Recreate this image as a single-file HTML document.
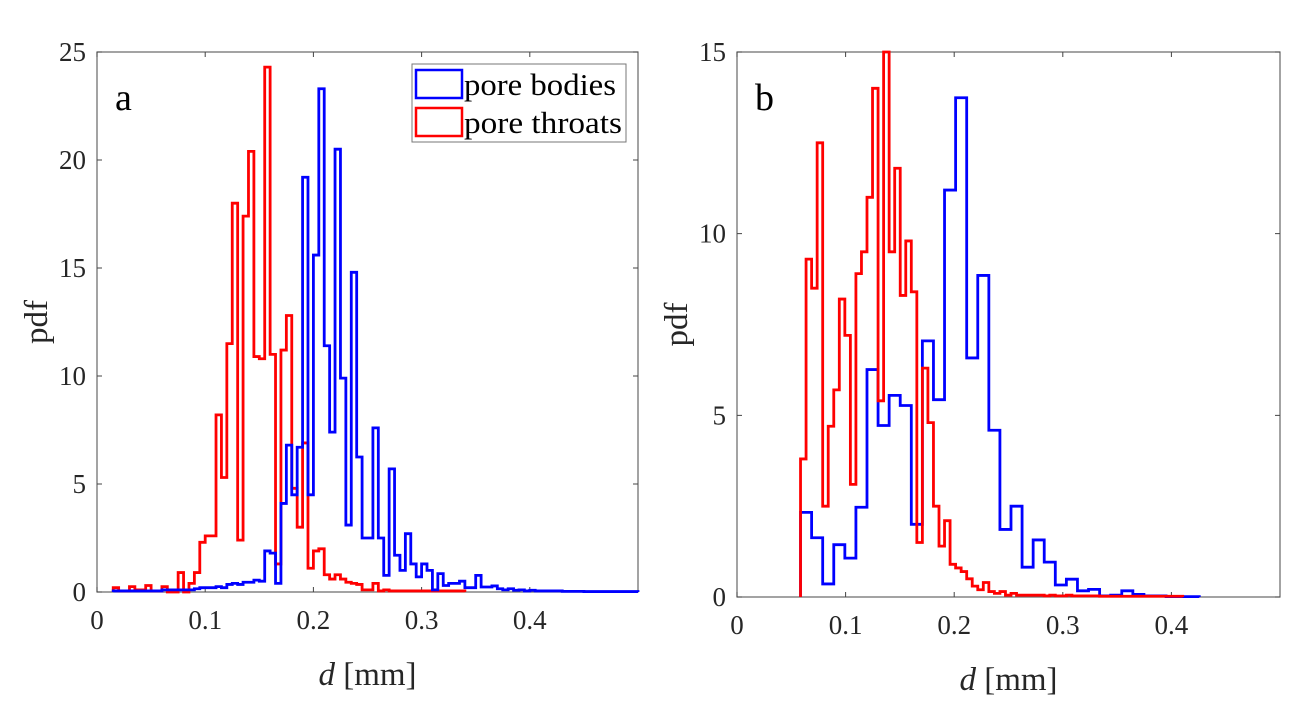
<!DOCTYPE html>
<html><head><meta charset="utf-8">
<style>
html,body{margin:0;padding:0;background:#fff;}
svg{display:block;font-family:"Liberation Serif",serif;}
</style></head>
<body>
<svg id="fig" width="1290" height="709" viewBox="0 0 1290 709" xmlns="http://www.w3.org/2000/svg"></svg>
<script>
// ---- Panel a data ----
const aRedStart = 0.015, aRedWidth = 0.005;
const aRedValues = [0.2,0.05,0.05,0.25,0.1,0.1,0.3,0.05,0.05,0.25,0,0,
  0.9,0,0.4,0.9,2.3,2.6,2.6,8.2,5.3,11.5,18.0,2.4,17.4,20.4,10.9,10.8,24.3,11.0,1.3,11.2,12.8,4.8,3.0,6.9,1.1,1.9,2.0,0.8,0.6,0.8,0.6,0.45,0.4,0.35,0.1,0.1,0.4,0.05,0.1,
  0.05,0.05,0.05,0.05,0.05,0.05,0.05,0.05,0.05,0.05,0.05,0.05,0.05,0.05];
const aBlueStart = 0.015, aBlueWidth = 0.005;
const aBlueValues = [0.05,0.05,0.05,0.05,0.05,0.05,0.05,0.05,0.05,0.1,0.1,0.1,0.1,0.1,0.1,
  0.15,0.2,0.2,0.2,0.25,0.2,0.35,0.4,0.35,0.45,0.45,0.55,0.5,
  1.9,1.8,0.4,4.1,6.8,4.5,6.7,19.2,4.5,15.6,23.3,11.4,7.4,20.5,9.9,3.1,14.8,6.25,2.5,2.5,7.6,2.5,0.77,5.7,1.7,1.0,2.7,1.3,0.7,1.3,1.0,0.1,0.85,0.3,0.4,0.4,0.5,0.2,0.2,0.77,0.23,0.23,0.28,0.15,0.1,0.15,0.08,0.1,0.05,0.08,0.05,0.05,0.05,0.05,0.05,0.03,0.03,0.03,0.03,0.02,0.02,0.02,0.02,0.02,0.02,0.02,0.02,0.02,0.02];
const aXTicks = [0,0.1,0.2,0.3,0.4];
const aXTickLabels = ["0","0.1","0.2","0.3","0.4"];
const aYTicks = [0,5,10,15,20,25];
const aYTickLabels = ["0","5","10","15","20","25"];
// ---- Panel b data ----
const bRedStart = 0.0585, bRedWidth = 0.0051;
const bRedValues = [3.8,9.3,8.5,12.5,2.5,4.7,5.7,8.2,7.2,3.1,8.9,9.5,11.0,14.0,5.4,15.0,9.5,11.8,8.3,9.8,8.4,1.5,6.3,4.8,2.5,1.4,2.1,0.9,0.8,0.7,0.5,0.3,0.2,0.4,0.15,0.1,0.15,0.05,0.1,0.05,
  0.05,0.05,0.05,0.05,0.03,0.05,0.03,0.03,0.05,0.03,0.03,0.03,0.03,0.03,0.02,0.02,0.02,0.02,0.02,0.02,0.02,0.02,0.02,0.02,0.02,0.02,0.02,0.02,0.02];
const bBlueStart = 0.0585, bBlueWidth = 0.0102;
const bBlueValues = [2.33,1.63,0.36,1.44,1.07,2.47,6.26,4.72,5.55,5.27,2.0,7.05,5.43,11.2,13.74,6.58,8.85,4.59,1.86,2.5,0.82,1.57,
  0.96,0.33,0.49,0.17,0.21,0.03,0.05,0.17,0.07,0.03,0.03,0.01,0.01,0.01];
const bXTicks = [0,0.1,0.2,0.3,0.4];
const bXTickLabels = ["0","0.1","0.2","0.3","0.4"];
const bYTicks = [0,5,10,15];
const bYTickLabels = ["0","5","10","15"];

const NS = "http://www.w3.org/2000/svg";
const svg = document.getElementById('fig');
function mk(tag, attrs, parent){
  const e = document.createElementNS(NS, tag);
  for (const k in attrs) e.setAttribute(k, attrs[k]);
  (parent||svg).appendChild(e);
  return e;
}

function panel(p){
  const g = mk('g', {});
  
  
  const xs = v => p.x0 + (v - 0) / 0.5 * (p.x1 - p.x0);
  const ys = v => p.y0 - v / p.ymax * (p.y0 - p.y1);
  const frame = mk('rect', {x:p.x0, y:p.y1, width:p.x1-p.x0, height:p.y0-p.y1, fill:'#fff', stroke:'#666', 'stroke-width':1.2}, g);
  
  
  p.xTicks.forEach((t, i) => {
    const X = xs(t);
    const tk = mk('path', {d:`M${X},${p.y0}v-5M${X},${p.y1}v5`, stroke:'#444', 'stroke-width':1, fill:'none'}, g);
    
    
    const lb = mk('text', {x:X, y:p.y0+37, 'font-size':27, 'text-anchor':'middle', fill:'#262626'}, g);
    lb.textContent = p.xTickLabels[i];
    
    
  });
  p.yTicks.forEach((t, i) => {
    const Y = ys(t);
    const tk = mk('path', {d:`M${p.x0},${Y}h5M${p.x1},${Y}h-5`, stroke:'#444', 'stroke-width':1, fill:'none'}, g);
    
    
    const lb = mk('text', {x:p.x0-11, y:Y+9, 'font-size':27, 'text-anchor':'end', fill:'#262626'}, g);
    lb.textContent = p.yTickLabels[i];
    
    
  });
  p.series.forEach(s => {
    let d = `M${xs(s.start)},${ys(0)}`;
    s.values.forEach((v, i) => {
      d += `V${ys(v)}H${xs(s.start + (i+1)*s.width)}`;
    });
    d += `V${ys(0)}`;
    const path = mk('path', {d:d, fill:'none', stroke:s.color, 'stroke-width':2.8, 'stroke-linejoin':'miter'}, g);
    
    
  });
  const letter = mk('text', {x:p.x0+18, y:p.y1+58, 'font-size':38, fill:'#000'}, g);
  letter.textContent = p.id;
  
  
  const yl = mk('text', {x:0, y:0, 'font-size':33, 'text-anchor':'middle', fill:'#262626', transform:`translate(${p.x0-50},${(p.y0+p.y1)/2}) rotate(-90)`}, g);
  yl.textContent = 'pdf';
  
  
  const xl = mk('text', {x:(p.x0+p.x1)/2, y:p.y0+93, 'font-size':33, 'text-anchor':'middle', fill:'#262626'}, g);
  xl.innerHTML = '<tspan font-style="italic">d</tspan> [mm]';
  
  
}

panel({id:'a', x0:97, x1:638, y0:592, y1:52, ymax:25,
  xTicks:aXTicks, xTickLabels:aXTickLabels, yTicks:aYTicks, yTickLabels:aYTickLabels,
  series:[{name:'pore-throats-hist-a', color:'#ff0000', start:aRedStart, width:aRedWidth, values:aRedValues},
          {name:'pore-bodies-hist-a', color:'#0000ff', start:aBlueStart, width:aBlueWidth, values:aBlueValues}]});
panel({id:'b', x0:737, x1:1280, y0:597, y1:52, ymax:15,
  xTicks:bXTicks, xTickLabels:bXTickLabels, yTicks:bYTicks, yTickLabels:bYTickLabels,
  series:[{name:'pore-bodies-hist-b', color:'#0000ff', start:bBlueStart, width:bBlueWidth, values:bBlueValues},
          {name:'pore-throats-hist-b', color:'#ff0000', start:bRedStart, width:bRedWidth, values:bRedValues}]});

const lg = mk('g', {});


const lbox = mk('rect', {x:412, y:64, width:214, height:78, fill:'#fff', stroke:'#777', 'stroke-width':1}, lg);


const leg = [{label:'pore bodies', color:'#0000ff', y:70},{label:'pore throats', color:'#ff0000', y:108}];
leg.forEach(e => {
  const r = mk('rect', {x:416, y:e.y, width:46, height:28, fill:'none', stroke:e.color, 'stroke-width':2.5}, lg);
  
  
  const t = mk('text', {x:464, y:e.y+25, 'font-size':31, fill:'#000', textLength:e.label === 'pore bodies' ? 152 : 158, lengthAdjust:'spacingAndGlyphs'}, lg);
  t.textContent = e.label;
  
  
});
</script>
</body></html>
